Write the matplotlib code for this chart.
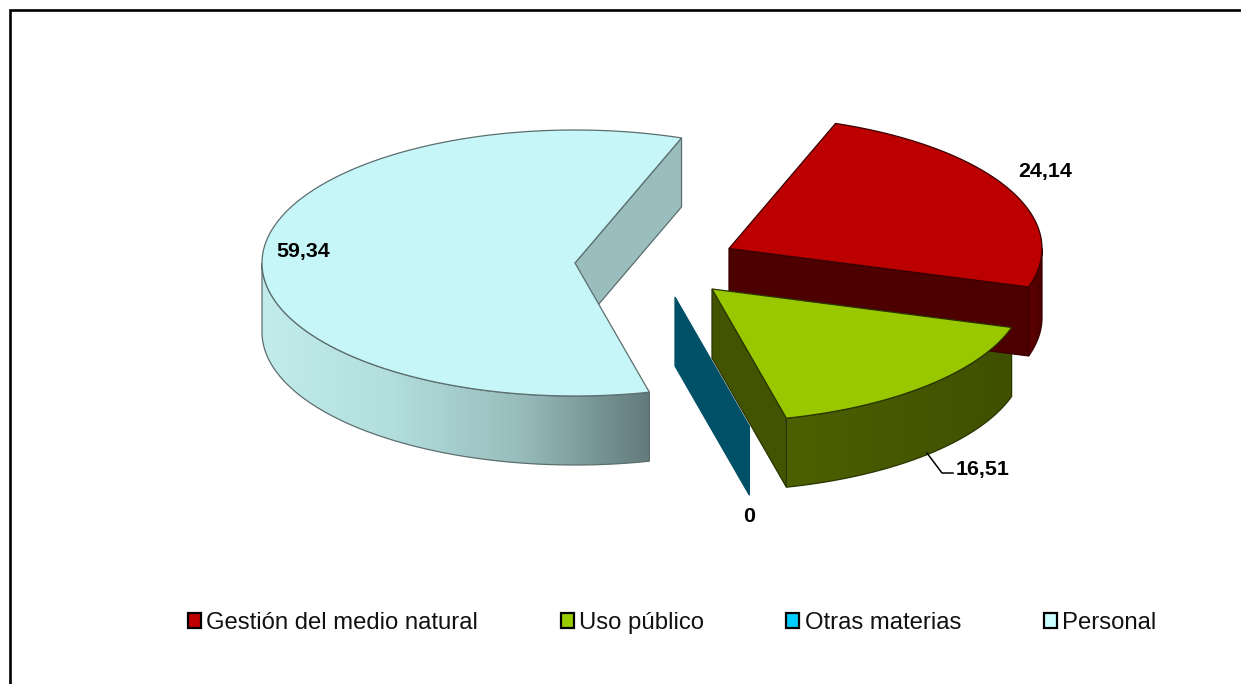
import numpy as np
import matplotlib
matplotlib.use("Agg")
import matplotlib.pyplot as plt
from matplotlib.patches import Polygon, Patch
from matplotlib.colors import LinearSegmentedColormap

categories = ["Gestión del medio natural", "Uso público", "Otras materias", "Personal"]
values = [24.14, 16.51, 0, 59.34]
value_labels = ["24,14", "16,51", "0", "59,34"]

plt.rcParams['font.family'] = ['Liberation Sans', 'DejaVu Sans']

legend_colors = ["#C00000", "#99CC00", "#00CCFF", "#CCFFFF"]
top_colors = ["#BC0000", "#99C800", "#00CCFF", "#C6F6F7"]
face_colors = ["#4C0000", "#435400", "#005068", "#9ABDBE"]
side_ramps = [["#5E0000", "#4A0000"], ["#4C6000", "#3F5000"], ["#005068", "#005068"],
              ["#C2ECEC", "#B2DEDE", "#98BCBC", "#627A7B"]]
edge_colors = ["#3A0000", "#2A3500", "#005068", "#5C6E6E"]
centers = [(729, 248.5), (712, 289), (675, 297), (575, 263)]
draw_order = [0, 3, 2, 1]
label_pos = [(1045.5, 172), (982.5, 469), (749, 516), (303.5, 252)]

A, B, D = 313, 133, 69
START = 70.1

fig = plt.figure(figsize=(12.41, 6.84), dpi=100)
ax = fig.add_axes([0, 0, 1, 1])
ax.set_axis_off()


def pt(c, deg, dz=0):
    t = np.radians(deg)
    return c[0] + A * np.cos(t), c[1] - B * np.sin(t) + dz


def arc(c, a1, a2, dz=0, n=160):
    t = np.radians(np.linspace(a1, a2, n))
    return np.column_stack([c[0] + A * np.cos(t), c[1] - B * np.sin(t) + dz])


def filled_gradient(poly, ramp, edge):
    xs, ys = poly[:, 0], poly[:, 1]
    cmap = LinearSegmentedColormap.from_list("r", ramp)
    im = ax.imshow(np.linspace(0, 1, 256)[None, :], cmap=cmap, aspect="auto", origin="upper",
                   extent=(xs.min(), xs.max(), ys.max(), ys.min()), zorder=2)
    p = Polygon(poly, closed=True, fc="none", ec=edge, lw=0.9, zorder=2.1)
    ax.add_patch(p)
    im.set_clip_path(p)


spans = []
ang = START
for v in values:
    next_ang = ang - v / sum(values) * 360
    spans.append((ang, next_ang))
    ang = next_ang

for i in draw_order:
    c = centers[i]
    a1, a2 = spans[i]
    # outer wall: the part of the arc on the near half of the ellipse
    grid = np.linspace(a1, a2, 720)
    near = grid[np.sin(np.radians(grid)) <= 0]
    if values[i] > 0 and near.size > 1:
        upper = arc(c, near[0], near[-1])
        lower = arc(c, near[-1], near[0], D)
        filled_gradient(np.vstack([upper, lower]), side_ramps[i], edge_colors[i])
    # cut wall that faces the viewer
    if np.cos(np.radians(a2)) > 0:
        e = pt(c, a2)
        wall = [c, e, (e[0], e[1] + D), (c[0], c[1] + D)]
        ax.add_patch(Polygon(wall, closed=True, fc=face_colors[i], ec=edge_colors[i], lw=0.9, zorder=2.2))
    # top
    if values[i] > 0:
        top = np.vstack([[c], arc(c, a1, a2)])
        ax.add_patch(Polygon(top, closed=True, fc=top_colors[i], ec=edge_colors[i], lw=0.9, zorder=2.3))
    ax.text(*label_pos[i], value_labels[i], ha="center", va="center", fontsize=15.4,
            fontweight="bold", color="black", zorder=5)

# leader line of the second label
ax.plot([927, 942, 953], [453, 473, 473], color="black", lw=1.1, zorder=4)

# chart frame
ax.plot([9.5, 9.5, 1241], [684, 10, 10], color="black", lw=1.9, solid_joinstyle="miter", zorder=6)

handles = [Patch(fc=col, ec="black", lw=1.6, label=cat) for col, cat in zip(legend_colors, categories)]
leg = ax.legend(handles=handles, ncol=4, frameon=False, fontsize=17.2, loc="center",
                bbox_to_anchor=(672 / 1241, 1 - 623 / 684), handlelength=0.55, handleheight=0.55,
                handletextpad=0.22, columnspacing=3.45, labelcolor="#111111", borderpad=0, borderaxespad=0)

ax.set_xlim(0, 1241)
ax.set_ylim(684, 0)
fig.savefig("out.png", dpi=100, facecolor="white")
